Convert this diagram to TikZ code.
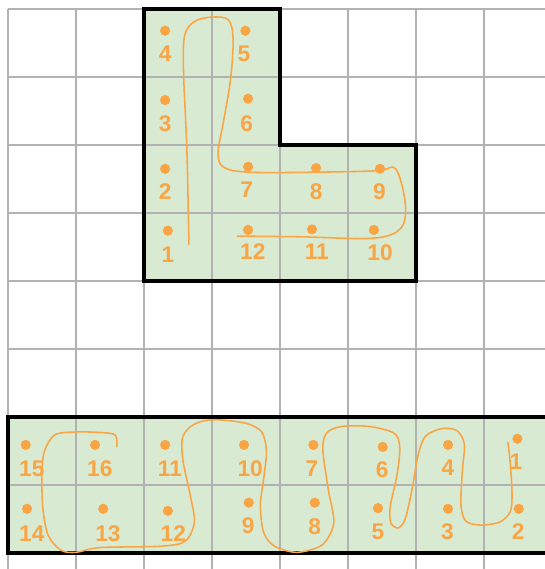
\documentclass[tikz,border=0pt]{standalone}
\usepackage{fontspec}
\setmainfont{Liberation Sans}
\usetikzlibrary{calc}
\definecolor{cellfill}{HTML}{D9EAD3}
\definecolor{pathorange}{RGB}{249,165,68}
\colorlet{gridlines}{gray!60}
\tikzset{
    dot/.style={circle, fill=pathorange, inner sep=0pt, minimum size=1.5mm},
    num/.style={text=pathorange, font=\fontsize{9.5}{11}\selectfont\bfseries, inner sep=0pt},
    walk/.style={pathorange, line width=0.65pt, line cap=round}
}
\begin{document}
\begin{tikzpicture}
        \useasboundingbox (-0.118,-0.235) rectangle (7.882,8.132);
        \coordinate (SW) at (0,0);
        \coordinate (LB) at (2,4);
        % shapes
        \fill[cellfill] (LB) |- (4,8) |- (6,6) |- cycle;
        \fill[cellfill] (SW) rectangle (8.2,2);
        % grid
        \draw[gridlines, line width=0.5pt] (0,-0.3) grid (8.2,8);
        % ~~~~~~~~~~~~~~~~~
        \draw[line width=1.5pt] (LB) |- (4,8) |- (6,6) |- cycle;
        \draw[line width=1.5pt] (8.2,2) -| (SW) -- (8.2,0);
        % L shape cells
        \foreach \n/\x/\y/\lx/\ly in {
            1/2.35/4.74/2.35/4.38, 2/2.31/5.65/2.31/5.31, 3/2.31/6.66/2.31/6.32,
            4/2.31/7.68/2.31/7.34, 5/3.49/7.68/3.47/7.34, 6/3.53/6.68/3.51/6.32,
            7/3.53/5.68/3.51/5.34, 8/4.53/5.66/4.53/5.32, 9/5.47/5.65/5.46/5.31,
            10/5.38/4.75/5.47/4.41, 11/4.47/4.76/4.54/4.43, 12/3.53/4.75/3.60/4.43}
        {
            \node[dot] (u\n) at (\x,\y) {};
            \node[num] (ul\n) at (\lx,\ly) {\n};
        }
        % strip cells
        \foreach \n/\x/\y/\lx/\ly in {
            1/7.49/1.68/7.47/1.34, 2/7.51/0.65/7.50/0.31, 3/6.47/0.65/6.46/0.31,
            4/6.47/1.59/6.47/1.25, 5/5.44/0.66/5.44/0.31, 6/5.51/1.56/5.50/1.22,
            7/4.49/1.59/4.47/1.24, 8/4.51/0.74/4.51/0.38, 9/3.54/0.74/3.53/0.40,
            10/3.47/1.59/3.56/1.24, 11/2.31/1.59/2.38/1.24, 12/2.35/0.62/2.43/0.28,
            13/1.40/0.65/1.47/0.29, 14/0.28/0.65/0.35/0.29, 15/0.26/1.59/0.35/1.24,
            16/1.28/1.59/1.35/1.24}
        {
            \node[dot] (s\n) at (\x,\y) {};
            \node[num] (sl\n) at (\lx,\ly) {\n};
        }
        % hand drawn walks
        \draw[walk] plot[smooth, tension=0.55] coordinates {
            (2.66,4.54) (2.63,5.93) (2.58,7.10) (2.60,7.62) (2.75,7.82)
            (3.00,7.88) (3.24,7.84) (3.31,7.55) (3.27,6.95) (3.16,6.30)
            (3.09,5.90) (3.16,5.68) (3.53,5.60) (4.53,5.60) (5.43,5.62)
            (5.70,5.65) (5.84,5.15) (5.78,4.78) (5.38,4.63) (4.29,4.65) (3.37,4.66)};
        \draw[walk] plot[smooth, tension=0.5] coordinates {
            (1.60,1.56) (1.58,1.73) (1.40,1.77) (1.01,1.78) (0.69,1.74)
            (0.54,1.51) (0.50,1.22) (0.51,0.68) (0.59,0.26) (0.78,0.04)
            (1.00,0.01) (1.35,0.08) (2.24,0.10) (2.60,0.17) (2.74,0.45)
            (2.68,0.85) (2.57,1.37) (2.57,1.71) (2.73,1.89) (3.01,1.96)
            (3.49,1.91) (3.73,1.78) (3.80,1.50) (3.76,1.10) (3.71,0.70)
            (3.76,0.30) (3.92,0.10) (4.25,0.01) (4.62,0.12) (4.79,0.44)
            (4.71,0.93) (4.63,1.51) (4.68,1.76) (4.90,1.86) (5.32,1.86)
            (5.68,1.76) (5.76,1.55) (5.72,1.15) (5.62,0.68) (5.63,0.44)
            (5.74,0.37) (5.84,0.50) (5.94,0.93) (6.03,1.44) (6.14,1.72)
            (6.38,1.83) (6.60,1.80) (6.71,1.60) (6.68,1.20) (6.66,0.71)
            (6.73,0.47) (6.96,0.41) (7.24,0.46) (7.39,0.62) (7.41,0.93)
            (7.38,1.37) (7.35,1.63)};
    \end{tikzpicture}
\end{document}
